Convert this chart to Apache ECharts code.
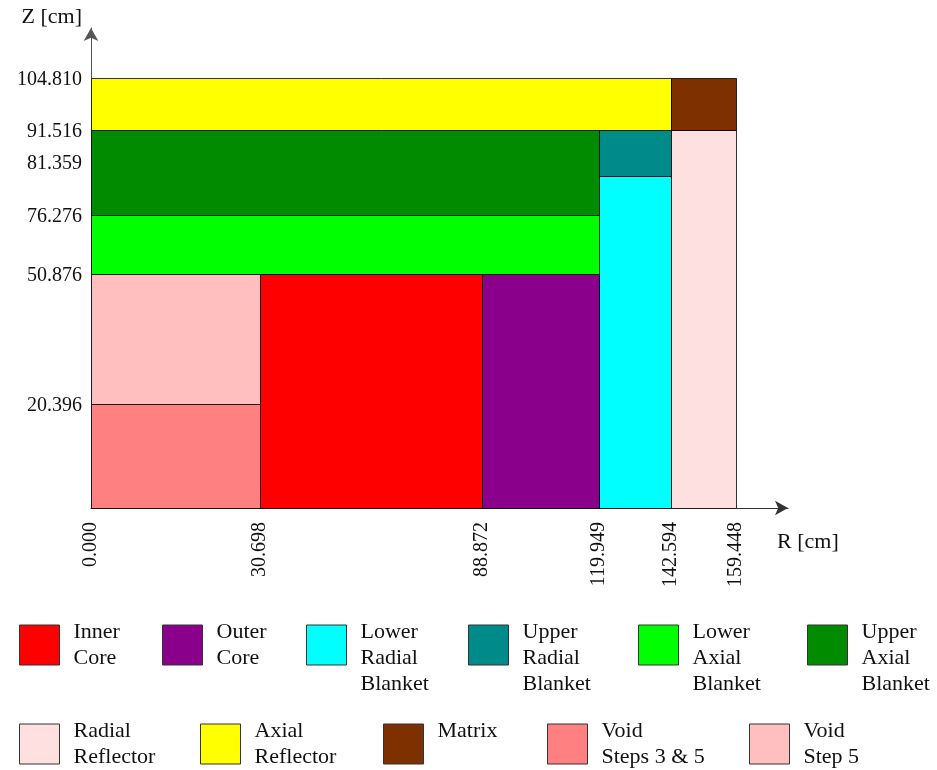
<!DOCTYPE html>
<html>
<head>
<meta charset="utf-8">
<script src="https://cdn.jsdelivr.net/npm/echarts@6/dist/echarts.min.js"></script>
<style>
  html, body { margin: 0; padding: 0; background: #fff; }
  #chart { width: 937px; height: 770px; }
</style>
</head>
<body>
<div id="chart"></div>
<script>
// Radial and axial zone boundaries [cm]
const rBounds = [0, 30.698, 88.872, 119.949, 142.594, 159.448];
const zBounds = [0, 20.396, 50.876, 76.276, 81.359, 91.516, 104.810];

// Core zones: radial extent [cm] and axial extent [cm]
const zoneNames = [
  'Inner Core', 'Outer Core', 'Lower Radial Blanket', 'Upper Radial Blanket',
  'Lower Axial Blanket', 'Upper Axial Blanket', 'Radial Reflector',
  'Axial Reflector', 'Matrix', 'Void Steps 3 & 5', 'Void Step 5'
];
const zoneRMin = [30.698, 88.872, 119.949, 119.949, 0, 0, 142.594, 0, 142.594, 0, 0];
const zoneRMax = [88.872, 119.949, 142.594, 142.594, 119.949, 119.949, 159.448, 142.594, 159.448, 30.698, 30.698];
const zoneZMin = [0, 0, 0, 81.359, 50.876, 76.276, 0, 91.516, 91.516, 0, 20.396];
const zoneZMax = [50.876, 50.876, 81.359, 91.516, 76.276, 91.516, 91.516, 104.810, 104.810, 20.396, 50.876];
const zoneLegendText = [
  'Inner\nCore', 'Outer\nCore', 'Lower\nRadial\nBlanket', 'Upper\nRadial\nBlanket',
  'Lower\nAxial\nBlanket', 'Upper\nAxial\nBlanket', 'Radial\nReflector',
  'Axial\nReflector', 'Matrix', 'Void\nSteps 3 & 5', 'Void\nStep 5'
];

// Fill colours per zone
const zoneColors = [
  '#FF0000', '#8B008B', '#00FFFF', '#008B8B', '#00FF00', '#008B00',
  '#FFE0E0', '#FFFF00', '#7F3000', '#FF8080', '#FFBFBF'
];

// The drawing is schematic (not to scale): on-screen distance of each boundary from the origin
const rScreen = [0, 169, 391, 508, 580, 645];
const zScreen = [0, 104, 234, 293, 332, 378, 430];

// Legend placement (pixels)
const legendLeft = [19, 162, 306, 468, 638, 807, 19, 200, 383, 547, 749];
const legendTop  = [625, 625, 625, 625, 625, 625, 724, 724, 724, 724, 724];

const FONT = '"Liberation Serif", "Times New Roman", serif';
const LINE = 26;
const SWATCH = 40;

// Piecewise-linear map from physical coordinate to schematic axis units
function warp(v, bounds, screen) {
  for (let i = 1; i < bounds.length; i++) {
    if (v <= bounds[i]) {
      const t = (v - bounds[i - 1]) / (bounds[i] - bounds[i - 1]);
      return screen[i - 1] + t * (screen[i] - screen[i - 1]);
    }
  }
  return screen[screen.length - 1];
}
const warpR = v => warp(v, rBounds, rScreen);
const warpZ = v => warp(v, zBounds, zScreen);

function labelFor(value, bounds, screen) {
  const i = screen.findIndex(s => Math.abs(s - value) < 1e-6);
  return i < 0 ? '' : bounds[i].toFixed(3);
}

const series = zoneNames.map((name, i) => ({
  type: 'custom',
  name: name,
  data: [[zoneRMin[i], zoneRMax[i], zoneZMin[i], zoneZMax[i]]],
  renderItem: (params, api) => {
    const p0 = api.coord([warpR(api.value(0)), warpZ(api.value(3))]);
    const p1 = api.coord([warpR(api.value(1)), warpZ(api.value(2))]);
    return {
      type: 'rect',
      shape: {
        x: Math.round(p0[0]) + 0.5,
        y: Math.round(p0[1]) + 0.5,
        width: Math.round(p1[0]) - Math.round(p0[0]),
        height: Math.round(p1[1]) - Math.round(p0[1])
      },
      style: { fill: zoneColors[i], stroke: 'rgba(0,0,0,0.8)', lineWidth: 1 }
    };
  }
}));

// One legend block per zone so each swatch sits at its own place.
// Legend text is centred on the swatch; blank lines keep the first
// line of every label at the same height next to the swatch top.
const legends = zoneNames.map((name, i) => {
  const lines = zoneLegendText[i].split('\n');
  let padded = lines.slice();
  if (lines.length === 1) padded = [lines[0], ' '];
  if (lines.length === 3) padded = [' '].concat(lines);
  const boxH = LINE * padded.length;
  const overhang = Math.max(0, boxH / 2 - SWATCH / 2);
  const text = padded.join('\n');
  return {
    show: true,
    left: legendLeft[i],
    top: legendTop[i] - overhang,
    padding: 0,
    orient: 'horizontal',
    itemWidth: SWATCH,
    itemHeight: SWATCH,
    selectedMode: false,
    data: [{
      name: name,
      icon: 'rect',
      itemStyle: { color: zoneColors[i], borderColor: '#333', borderWidth: 1 }
    }],
    formatter: () => text,
    textStyle: {
      fontFamily: FONT,
      fontSize: 22,
      lineHeight: LINE,
      color: '#111',
      padding: [0, 0, 0, 9]
    }
  };
});

const chart = echarts.init(document.getElementById('chart'), null, { renderer: 'canvas' });
chart.setOption({
  backgroundColor: '#fff',
  animation: false,
  grid: { left: 91, right: 149, top: 28, bottom: 262, outerBoundsMode: 'none' },
  xAxis: {
    type: 'value',
    min: 0,
    max: 697,
    name: 'R [cm]',
    nameLocation: 'end',
    nameGap: -11,
    nameTextStyle: {
      fontFamily: FONT, fontSize: 22, color: '#111',
      align: 'left', verticalAlign: 'top', padding: [23, 0, 0, 0]
    },
    axisLine: {
      show: true,
      symbol: ['none', 'arrow'],
      symbolSize: [11, 13],
      lineStyle: { color: '#333', width: 1 }
    },
    axisTick: { show: false },
    splitLine: { show: false },
    axisLabel: {
      customValues: rScreen,
      rotate: 90,
      margin: 14,
      fontFamily: FONT,
      fontSize: 20,
      color: '#111',
      formatter: v => labelFor(v, rBounds, rScreen)
    }
  },
  yAxis: {
    type: 'value',
    min: 0,
    max: 480,
    name: 'Z [cm]',
    nameLocation: 'end',
    nameGap: 11,
    nameTextStyle: {
      fontFamily: FONT, fontSize: 22, color: '#111',
      align: 'right', verticalAlign: 'middle', padding: [0, 9, 0, 0]
    },
    axisLine: {
      show: true,
      symbol: ['none', 'arrow'],
      symbolSize: [11, 13],
      lineStyle: { color: '#555', width: 1 }
    },
    axisTick: { show: false },
    splitLine: { show: false },
    axisLabel: {
      customValues: zScreen.slice(1),
      margin: 9,
      fontFamily: FONT,
      fontSize: 20,
      color: '#111',
      formatter: v => {
        const txt = labelFor(v, zBounds, zScreen);
        // 81.359 sits close to 76.276, so its label is lifted a little
        return txt === '81.359' ? '{lift|' + txt + '}' : '{std|' + txt + '}';
      },
      rich: {
        std: { fontFamily: FONT, fontSize: 20, color: '#111', padding: [4, 0, 0, 0] },
        lift: { fontFamily: FONT, fontSize: 20, color: '#111', padding: [4, 0, 28, 0] }
      }
    }
  },
  legend: legends,
  series: series
});
</script>
</body>
</html>
